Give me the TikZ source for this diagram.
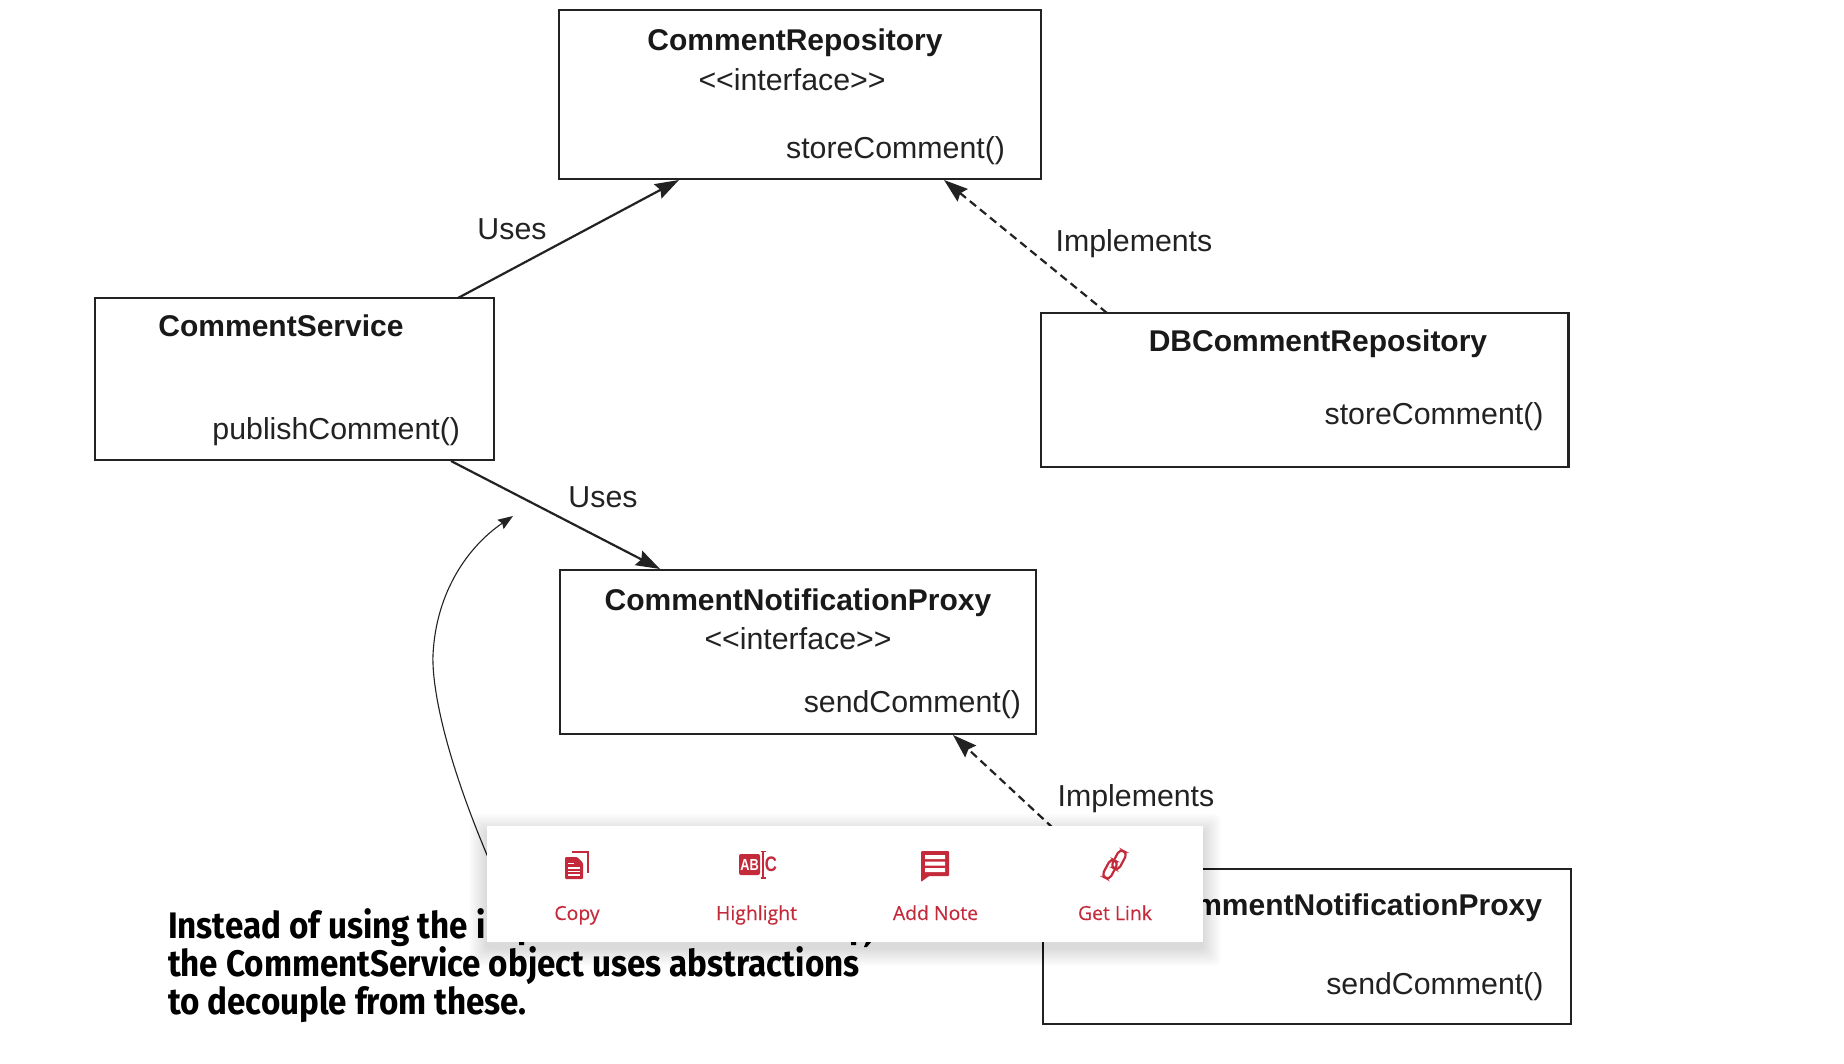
\documentclass[tikz,border=0pt]{standalone}
\usepackage{fontspec}
\setmainfont{Liberation Sans}
\newfontfamily\capfont[FakeStretch=0.90]{Fira Sans}
\newfontfamily\uifont[FakeBold=0.25]{Open Sans}
\newfontfamily\iconfont[FakeStretch=0.8]{Liberation Sans}
\usetikzlibrary{arrows.meta,calc}
\definecolor{ink}{HTML}{222222}
\definecolor{uired}{HTML}{C52A3A}
\tikzset{
  umlbox/.style={draw=ink,line width=2.4pt,fill=white,rectangle,anchor=north west,inner sep=0,outer sep=0},
  title/.style={inner sep=0,outer sep=0,font=\fontsize{30}{36}\selectfont\bfseries,text=black!90},
  member/.style={inner sep=0,outer sep=0,font=\fontsize{30.3}{36}\selectfont,text=ink},
  rel/.style={draw=ink,line width=2.2pt,-{Stealth[length=24pt,width=16pt,inset=3pt]}},
  impl/.style={rel,dash pattern=on 8pt off 5pt},
  note/.style={draw=ink,line width=1.1pt,-{Stealth[length=15pt,width=11pt,inset=2pt]}},
  caption/.style={inner sep=0,outer sep=0,anchor=base west,font=\capfont\fontsize{36.9}{38}\selectfont\bfseries,text=black},
  uilabel/.style={inner sep=0,outer sep=0,anchor=base,font=\uifont\fontsize{19.4}{22}\selectfont,text=uired},
  iconglyph/.style={inner sep=0,outer sep=0,font=\iconfont\fontsize{16}{16}\selectfont\bfseries},
}
\begin{document}
\begin{tikzpicture}[x=1pt,y=-1pt]
\useasboundingbox (0,0) rectangle (1844,1064);
\fill[white] (0,0) rectangle (1844,1064);

% boxes
\node[umlbox,minimum width=482pt,minimum height=169pt] (repo) at (559,10) {};
\node[umlbox,minimum width=399pt,minimum height=162pt] (svc) at (95,298) {};
\node[umlbox,minimum width=527.5pt,minimum height=154pt] (db) at (1041,313) {};
\node[umlbox,minimum width=476pt,minimum height=164pt] (proxy) at (560,570) {};
\node[umlbox,minimum width=528pt,minimum height=155pt] (email) at (1043,869) {};

% box texts
\node[title,anchor=base] (repoT) at (795,50.5) {CommentRepository};
\node[member,anchor=base] (repoI) at (792,91) {<{}<interface>{}>};
\node[member,anchor=base east] (repoM) at (1005,158.5) {storeComment()};
\node[title,anchor=base] (svcT) at (281,337) {CommentService};
\node[member,anchor=base east] (svcM) at (460,439) {publishComment()};
\node[title,anchor=base] (dbT) at (1318,352) {DBCommentRepository};
\node[member,anchor=base east] (dbM) at (1543.5,424) {storeComment()};
\node[title,anchor=base] (proxyT) at (798,610) {CommentNotificationProxy};
\node[member,anchor=base] (proxyI) at (798,649) {<{}<interface>{}>};
\node[member,anchor=base east] (proxyM) at (1021,712) {sendComment()};
\node[title,anchor=base east] (emailT) at (1542,915) {mmentNotificationProxy};
\node[member,anchor=base east] (emailM) at (1543.5,994) {sendComment()};

% relations
\draw[rel] ($(svc.north west)+(363,0)$) -- ($(repo.south west)+(120,1)$);
\draw[impl] ($(db.north west)+(66,0)$) -- ($(repo.south west)+(385,1)$);
\draw[rel] ($(svc.south west)+(356,1)$) -- ($(proxy.north west)+(100,-1)$);
\coordinate (popupEdge) at (1053,828);
\draw[impl] (popupEdge) -- ($(proxy.south west)+(393,1)$);

% relation labels
\node[member,anchor=base] (uses1) at (512,240) {Uses};
\node[member,anchor=base] (impl1) at (1134,252) {Implements};
\node[member,anchor=base] (uses2) at (603,507) {Uses};
\node[member,anchor=base] (impl2) at (1136,806) {Implements};

% caption
\node[caption] (capA) at (168,938) {Instead of using the i};
\node[caption] (capB) at (168,976.5) {the CommentService object uses abstractions};
\node[caption] (capC) at (168,1014) {to decouple from these.};
% what shows of the covered caption line below the panel
\fill[black] (519,942) rectangle (524,945) (851,942) rectangle (856,945) (866,942) -- (871,942) -- (867,947) -- (864,947) -- cycle;

% note curve
\coordinate (noteStart) at (490,862);
\coordinate (noteEnd) at (513,516);
\draw[note] (noteStart) .. controls (440,745) and (432,680) .. (433,655) .. controls (436,590) and (470,545) .. (noteEnd);

% popup shadow and panel
\foreach \i in {1,...,18}{
  \fill[black,opacity=0.009,rounded corners=5pt] (487-\i,832-\i) rectangle (1203+\i,948+\i);
}
\node[rectangle,fill=white,anchor=north west,inner sep=0,outer sep=0,minimum width=716pt,minimum height=116pt] (popup) at (487,826) {};

% popup labels
\node[uilabel] (lCopy) at (577,920) {Copy};
\node[uilabel] (lHigh) at (756.5,920) {Highlight};
\node[uilabel] (lNote) at (935.5,920) {Add Note};
\node[uilabel] (lLink) at (1115,920) {Get Link};

% copy icon
\draw[uired,line width=2pt] (572,852) -- (587.5,852) -- (587.5,873);
\fill[uired,rounded corners=1pt] (565,857) -- (577,857) -- (583,863) -- (583,879) -- (565,879) -- cycle;
\draw[white,line width=1.2pt] (568,863.5) -- (574,863.5) (568,868) -- (580,868) (568,871.5) -- (580,871.5) (568,875) -- (580,875);

% highlight icon
\fill[uired,rounded corners=2pt] (739,854) rectangle (760,875);
\node[iconglyph,text=white] (gAB) at (749.5,864.5) {AB};
\draw[uired,line width=1.5pt] (763,852) -- (763,878) (760.5,851.5) -- (765.5,851.5) (760.5,878) -- (765.5,878);
\node[iconglyph,text=uired,font=\iconfont\fontsize{21}{21}\selectfont\bfseries] (gC) at (771,864.5) {C};

% note icon
\fill[uired,rounded corners=1pt] (921,851) -- (949,851) -- (949,876) -- (929,876) -- (921,882) -- cycle;
\fill[white] (925,855) rectangle (945,859) (925,861.5) rectangle (945,865.5) (925,868) rectangle (945,872);

% link icon
\begin{scope}[shift={(1114.5,864.5)},rotate=62]
  \draw[uired,line width=2.2pt,rounded corners=4.4pt] (-16,-6) rectangle (3.5,2.5);
  \draw[uired,line width=2.2pt,rounded corners=4.4pt] (-3.5,-2.5) rectangle (16,6);
\end{scope}
\end{tikzpicture}
\end{document}
